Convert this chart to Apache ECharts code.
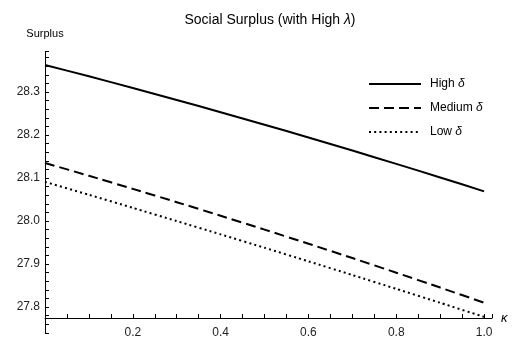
<!DOCTYPE html>
<html>
<head>
<meta charset="utf-8">
<script src="https://cdn.jsdelivr.net/npm/echarts@6/dist/echarts.min.js"></script>
<style>
  html, body { margin: 0; padding: 0; background: #fff; }
  #chart { width: 518px; height: 343px; }
</style>
</head>
<body>
<div id="chart"></div>
<script>
// κ values along the horizontal axis
const kappa = [0, 0.1, 0.2, 0.3, 0.4, 0.5, 0.6, 0.7, 0.8, 0.9, 1.0];

// Social surplus for each δ level
const highDelta   = [28.363, 28.3365, 28.3093, 28.2815, 28.2531, 28.224, 28.1943, 28.1639, 28.1329, 28.1013, 28.069];
const mediumDelta = [28.135, 28.1052, 28.0748, 28.0438, 28.0122, 27.980, 27.9472, 27.9138, 27.8798, 27.8452, 27.810];
const lowDelta    = [28.091, 28.0610, 28.0306, 27.9999, 27.969, 27.9378, 27.9062, 27.8744, 27.8422, 27.8098, 27.777];

const seriesNames = ['High δ', 'Medium δ', 'Low δ'];
const xTickLabels = ['0.2', '0.4', '0.6', '0.8', '1.0'];
const yTickLabels = ['27.8', '27.9', '28.0', '28.1', '28.2', '28.3'];

const FONT = 'Liberation Sans, Arial, sans-serif';
const pairs = ys => kappa.map((k, i) => [k, ys[i]]);

const chart = echarts.init(document.getElementById('chart'), null, { renderer: 'canvas' });

const lineStyles = [
  { color: '#000', width: 2, type: 'solid' },
  { color: '#000', width: 2, type: [10, 5] },
  { color: '#000', width: 2, type: [2, 3.2] }
];

chart.setOption({
  animation: false,
  backgroundColor: '#fff',
  title: {
    text: 'Social Surplus (with High {i|λ})',
    left: 265,
    textAlign: 'center',
    top: 8,
    textStyle: {
      fontFamily: FONT, fontSize: 14, fontWeight: 'normal', color: '#000',
      rich: { i: { fontFamily: FONT, fontSize: 14, fontStyle: 'italic', color: '#000' } }
    }
  },
  legend: {
    orient: 'vertical',
    left: 363,
    top: 73,
    itemWidth: 52,
    itemHeight: 14,
    itemGap: 12,
    data: seriesNames,
    itemStyle: { opacity: 0 },
    formatter: name => name.replace('δ', '{i|δ}'),
    textStyle: {
      fontFamily: FONT, fontSize: 12, color: '#000', padding: [0, 0, 0, 4],
      rich: { i: { fontFamily: FONT, fontSize: 12, fontStyle: 'italic', color: '#000' } }
    }
  },
  grid: { left: 45, right: 26, top: 51.6, bottom: 10.2, containLabel: false },
  xAxis: {
    type: 'value',
    min: 0,
    max: 1.018,
    interval: 0.05,
    offset: -14.8,
    name: 'κ',
    nameLocation: 'end',
    nameGap: 9,
    nameTextStyle: { fontFamily: FONT, fontSize: 13, fontStyle: 'italic', color: '#000', verticalAlign: 'middle' },
    axisLine: { show: true, onZero: false, lineStyle: { color: '#000', width: 1 } },
    axisTick: { show: true, inside: true, length: 4, lineStyle: { color: '#000' } },
    splitLine: { show: false },
    axisLabel: {
      fontFamily: FONT, fontSize: 12, color: '#222', margin: 9,
      showMinLabel: true, showMaxLabel: true,
      formatter: v => {
        const s = (Math.round(v * 100) / 100).toFixed(1);
        return (Math.abs(v * 5 - Math.round(v * 5)) < 1e-6 && xTickLabels.includes(s)) ? s : '';
      }
    }
  },
  yAxis: {
    type: 'value',
    min: 27.74,
    max: 28.394,
    interval: 0.02,
    name: 'Surplus',
    nameLocation: 'end',
    nameGap: 12,
    nameTextStyle: { fontFamily: FONT, fontSize: 11, color: '#000', align: 'center' },
    axisLine: { show: true, lineStyle: { color: '#000', width: 1 } },
    axisTick: { show: true, inside: true, length: 4, lineStyle: { color: '#000' } },
    splitLine: { show: false },
    axisLabel: {
      fontFamily: FONT, fontSize: 12, color: '#222', margin: 5,
      formatter: v => {
        const s = (Math.round(v * 100) / 100).toFixed(1);
        return (Math.abs(v * 10 - Math.round(v * 10)) < 1e-6 && yTickLabels.includes(s)) ? s : '';
      }
    }
  },
  series: [highDelta, mediumDelta, lowDelta].map((ys, i) => ({
    name: seriesNames[i],
    type: 'line',
    data: pairs(ys),
    symbol: 'none',
    showSymbol: false,
    smooth: 0.2,
    lineStyle: lineStyles[i],
    itemStyle: { color: '#000' }
  }))
});
</script>
</body>
</html>
